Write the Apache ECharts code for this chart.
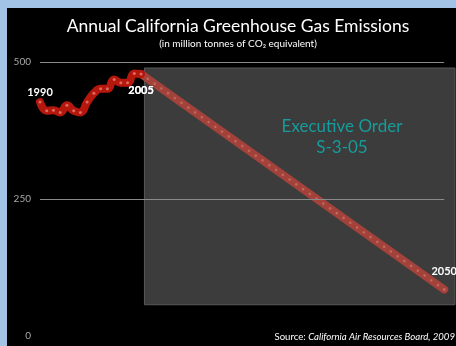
<!DOCTYPE html>
<html>
<head>
<meta charset="utf-8">
<script src="https://cdn.jsdelivr.net/npm/echarts@6/dist/echarts.min.js"></script>
<style>
  html, body { margin: 0; padding: 0; background: #a3c3e6; }
  #panel { position: absolute; left: 7px; top: 8px; width: 449px; height: 338px; background: #000; }
  #chart { position: absolute; left: 0; top: 0; width: 456px; height: 346px; }
</style>
</head>
<body>
<div id="panel"></div>
<div id="chart"></div>
<script>
// Recorded emissions, million tonnes CO2 equivalent
const years = [1990, 1991, 1992, 1993, 1994, 1995, 1996, 1997, 1998, 1999, 2000, 2001, 2002, 2003, 2004, 2005];
const emissions = [427, 411, 412, 408, 421, 411, 408, 427, 443, 451, 451, 468, 462, 462, 479, 478];

// Executive Order S-3-05 path: from the 2005 level down to 80% below 1990 by 2050
const targetYears = [2005, 2050];
const targetEmissions = [478, 85];

// Axis ticks and the reference lines drawn across the plot
const yTicks = [0, 250, 500];
const refLines = [250, 500];

// Years whose data point carries a label, and where the label sits
const labelledYears = { 1990: ['top', 3], 2005: ['bottom', 9], 2050: ['top', 11] };

// Extent of the shaded policy period
const orderYears = [2005.5, 2051.6];
const orderRange = [57, 489];

const FONT = 'Lato, "Open Sans", sans-serif';

function points(xs, ys, dotColor) {
  return xs.map((x, i) => {
    const item = { value: [x, ys[i]] };
    const lab = labelledYears[x];
    if (lab) {
      item.label = {
        show: true, position: lab[0], distance: lab[1],
        formatter: String(x), color: '#fff', fontWeight: 'bold',
        fontSize: 11, fontFamily: FONT
      };
    }
    return item;
  });
}

const chart = echarts.init(document.getElementById('chart'), null, { renderer: 'canvas' });

chart.setOption({
  backgroundColor: 'transparent',
  animation: false,
  graphic: [{
    type: 'text', x: 238, y: 26, z: 20,
    style: {
      text: 'Annual California Greenhouse Gas Emissions',
      fill: '#fff', font: '17.5px ' + FONT, textAlign: 'center', textVerticalAlign: 'middle'
    }
  }, {
    type: 'text', x: 238, y: 44, z: 20,
    style: {
      text: '(in million tonnes of CO\u2082 equivalent)',
      fill: '#fff', font: '10px ' + FONT, textAlign: 'center', textVerticalAlign: 'middle'
    }
  }, {
    type: 'text', x: 342, y: 127, z: 20,
    style: {
      text: 'Executive Order',
      fill: '#179b9b', font: '17px ' + FONT, textAlign: 'center', textVerticalAlign: 'middle'
    }
  }, {
    type: 'text', x: 342, y: 148, z: 20,
    style: {
      text: 'S-3-05',
      fill: '#179b9b', font: '17px ' + FONT, textAlign: 'center', textVerticalAlign: 'middle'
    }
  }, {
    type: 'text', right: 1, top: 332, z: 20,
    style: {
      text: '{n|Source: }{i|California Air Resources Board, 2009}',
      rich: {
        n: { fill: '#fff', fontSize: 9.6, fontFamily: FONT },
        i: { fill: '#fff', fontSize: 9.6, fontFamily: FONT, fontStyle: 'italic' }
      }
    }
  }],
  grid: { left: 40, right: 1, top: 62, bottom: 10 },
  xAxis: {
    type: 'value', min: years[0], max: orderYears[1],
    show: false
  },
  yAxis: {
    type: 'value', min: yTicks[0], max: yTicks[yTicks.length - 1], interval: yTicks[1] - yTicks[0],
    axisLine: { show: false }, axisTick: { show: false }, splitLine: { show: false },
    axisLabel: { color: '#a8a8a8', fontSize: 10, fontFamily: FONT, margin: 9 }
  },
  series: [{
    // shaded policy period behind the target path
    type: 'line', z: 1, data: [], silent: true,
    markArea: {
      silent: true,
      itemStyle: { color: '#3c3c3c', borderColor: '#595959', borderWidth: 1 },
      data: [[{ coord: [orderYears[0], orderRange[1]] }, { coord: [orderYears[1], orderRange[0]] }]]
    },
    markLine: {
      silent: true, symbol: 'none', label: { show: false },
      lineStyle: { color: '#8a8a8a', width: 1, type: 'solid' },
      data: refLines.map(v => [{ coord: [years[0], v] }, { coord: [targetYears[1], v] }])
    }
  }, {
    // target path, muted over the shaded period
    type: 'line', z: 3,
    data: points(targetYears, targetEmissions),
    symbol: 'circle', symbolSize: 3,
    itemStyle: { color: '#c0675f', borderWidth: 0 },
    lineStyle: { color: '#a3423a', width: 8, cap: 'round' }
  }, {
    // dotted highlight along the target path
    type: 'line', z: 4,
    data: targetYears.map((x, i) => [x, targetEmissions[i]]),
    showSymbol: false, silent: true,
    lineStyle: { color: '#c0675f', width: 2.6, type: [0.01, 8.27], cap: 'round' }
  }, {
    // recorded emissions
    type: 'line', z: 5,
    data: points(years, emissions),
    smooth: 0.5,
    symbol: 'circle', symbolSize: 3,
    itemStyle: { color: '#dc6a60', borderWidth: 0 },
    lineStyle: { color: '#b5170c', width: 8, cap: 'round' }
  }]
});
</script>
</body>
</html>
